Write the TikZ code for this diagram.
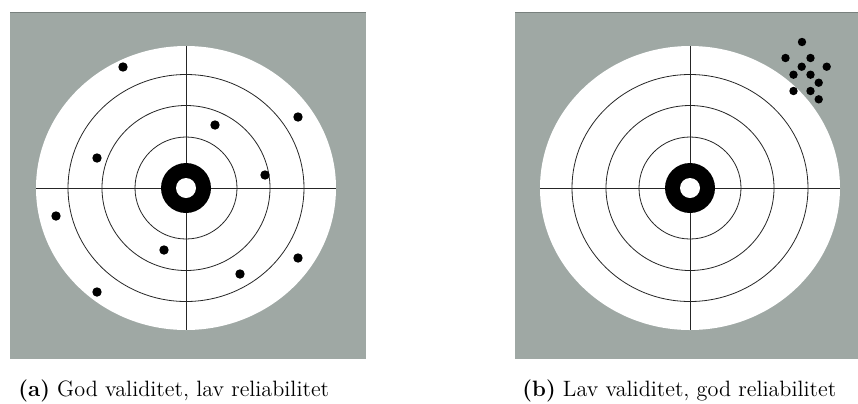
\documentclass[tikz,border=0pt]{standalone}
\definecolor{panelgray}{RGB}{159,168,164}
\definecolor{paneledge}{RGB}{120,128,125}
\tikzset{
  ring/.style={draw=black!85, line width=0.4pt},
  crossline/.style={draw=black!85, line width=0.4pt},
  hit/.style={fill=black},
  panel/.style={fill=panelgray},
  captext/.style={anchor=base west, inner sep=0pt, font=\fontsize{11.1}{13}\selectfont},
  pics/target/.style={code={
    \fill[white] (0,0) ellipse [x radius=150, y radius=142];
    \draw[ring] (0,0) ellipse [x radius=118, y radius=113.5];
    \draw[ring] (0,0) ellipse [x radius=84, y radius=82.5];
    \draw[ring] (0,0) ellipse [x radius=51, y radius=51];
    \draw[crossline] (-150,0) -- (150,0);
    \draw[crossline] (0,-142) -- (0,142);
    \fill[black] (0,0) circle [radius=25];
    \fill[white] (0,0) circle [radius=10];
  }}
}
\begin{document}
\begin{tikzpicture}[x=0.5pt,y=-0.5pt]
\useasboundingbox (0,0) rectangle (858,403);
\clip (0,0) rectangle (858,403);
% panel (a)
\fill[panel] (10,12) rectangle (366,359);
\draw[paneledge, line width=0.6pt] (10,12.5) -- (366,12.5);
\pic at (186,188) {target};
\foreach \p in {(123,67),(298,117),(215,125),(97,158),(265,175),(56,216),(164,250),(298,258),(240,274),(97,292)}
  \fill[hit] \p circle [radius=4.7];
\node[captext] (capa) at (18,396) {\textbf{(a)} God validitet, lav reliabilitet};
% panel (b)
\fill[panel] (515,12) rectangle (871,359);
\draw[paneledge, line width=0.6pt] (515,12.5) -- (871,12.5);
\pic at (690,188) {target};
\foreach \p in {(802,42),(785.5,58),(810.5,58),(826.7,66.7),(801.7,66.7),(793.5,74.7),(810.5,74.7),(818.7,82.7),(793.5,91),(810.5,91),(818.7,99.3)}
  \fill[hit] \p circle [radius=4.2];
\node[captext] (capb) at (522,396) {\textbf{(b)} Lav validitet, god reliabilitet};
\end{tikzpicture}
\end{document}
